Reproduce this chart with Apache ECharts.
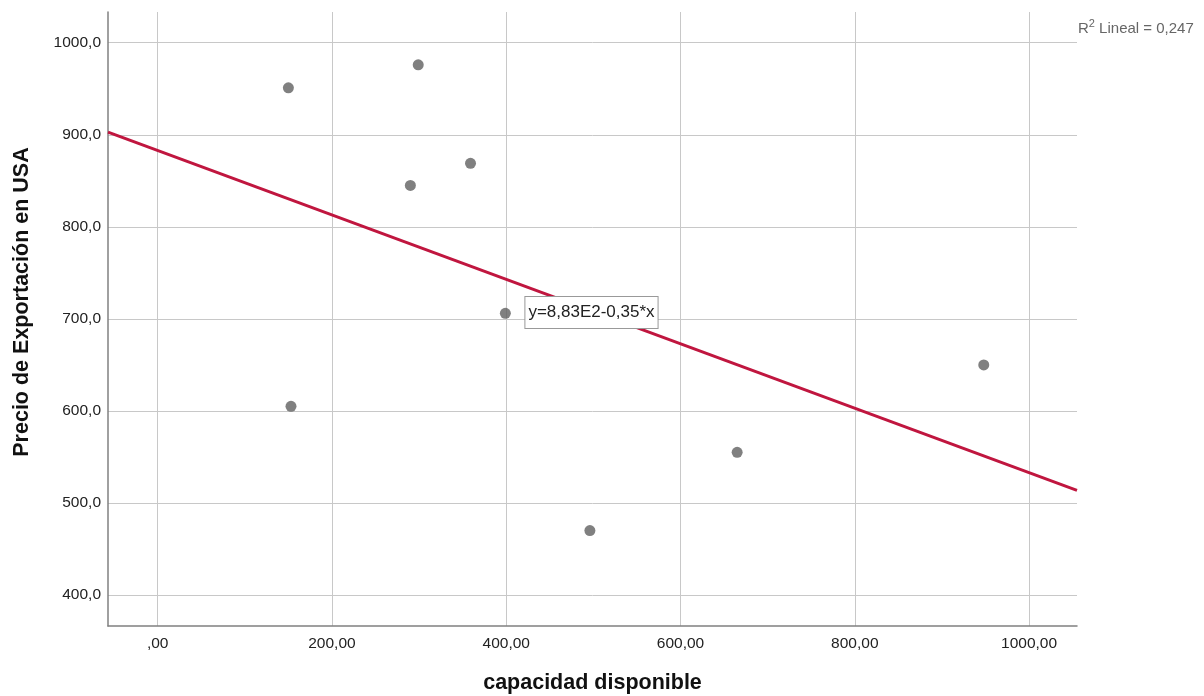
<!DOCTYPE html>
<html>
<head>
<meta charset="utf-8">
<script src="https://cdn.jsdelivr.net/npm/echarts@6/dist/echarts.min.js"></script>
<style>
html,body{margin:0;padding:0;background:#fff;}
#chart{width:1204px;height:696px;}
</style>
</head>
<body>
<div id="chart"></div>
<script>
// Data
const capacidad = [150, 299, 290, 359, 399, 153, 496, 665, 948];
const precio    = [951, 976, 845, 869, 706, 605, 470, 555, 650];
const xTicks = [0, 200, 400, 600, 800, 1000];
const yTicks = [400, 500, 600, 700, 800, 900, 1000];
const fitIntercept = 883;
const fitSlope = -0.35;
const fitLabel = 'y=8,83E2-0,35*x';
const r2Text = '0,247';
const xTitle = 'capacidad disponible';
const yTitle = 'Precio de Exportación en USA';

const xMin = -57, xMax = 1055;
const yMin = 366.3, yMax = 1033.4;

const points = capacidad.map((c, i) => [c, precio[i]]);
const fitLine = [[xMin, fitIntercept + fitSlope * xMin], [xMax, fitIntercept + fitSlope * xMax]];

const fmtX = v => { const s = v.toFixed(2).replace('.', ','); return s.startsWith('0,') ? s.slice(1) : s; };
const fmtY = v => v.toFixed(1).replace('.', ',');

const FF = 'Liberation Sans';
const chart = echarts.init(document.getElementById('chart'), null, {renderer: 'canvas'});
chart.setOption({
  animation: false,
  backgroundColor: '#ffffff',
  grid: {left: 108, right: 127, top: 12, bottom: 70, containLabel: false, outerBoundsMode: 'none'},
  xAxis: {
    type: 'value', min: xMin, max: xMax,
    name: xTitle, nameLocation: 'middle', nameGap: 46,
    nameTextStyle: {fontFamily: FF, fontSize: 21.5, fontWeight: 'bold', color: '#111'},
    axisLine: {show: true, onZero: false, lineStyle: {color: '#808080', width: 1.5}},
    axisTick: {show: false, customValues: xTicks},
    axisLabel: {customValues: xTicks, formatter: fmtX, fontFamily: FF, fontSize: 15.5, color: '#222', margin: 10},
    splitLine: {show: true, lineStyle: {color: '#c8c8c8', width: 1}}
  },
  yAxis: {
    type: 'value', min: yMin, max: yMax,
    axisLine: {show: true, onZero: false, lineStyle: {color: '#808080', width: 1.5}},
    axisTick: {show: false, customValues: yTicks},
    axisLabel: {customValues: yTicks, formatter: fmtY, fontFamily: FF, fontSize: 15.5, color: '#222', margin: 7},
    splitLine: {show: true, lineStyle: {color: '#c8c8c8', width: 1}}
  },
  series: [
    {
      type: 'line', data: fitLine, symbol: 'none', clip: true,
      lineStyle: {color: '#c0163f', width: 3}, z: 2,
      markPoint: {
        symbol: 'rect', symbolSize: 0,
        data: [{coord: [422, 707]}],
        label: {
          show: true, position: 'right', distance: 0, formatter: fitLabel,
          fontFamily: FF, fontSize: 17, lineHeight: 17, color: '#222',
          backgroundColor: '#fff', borderColor: '#999', borderWidth: 1, padding: [7, 3, 7, 3]
        }
      }
    },
    {
      type: 'scatter', data: points, symbol: 'circle', symbolSize: 11,
      itemStyle: {color: '#606060'}, z: 3
    }
  ],
  graphic: [
    {
      type: 'text', left: 1078, top: 18,
      style: {
        text: '{s|R}{u|2}{s| Lineal = ' + r2Text + '}',
        rich: {
          s: {fontFamily: FF, fontSize: 15, fill: '#666', verticalAlign: 'bottom'},
          u: {fontFamily: FF, fontSize: 11, fill: '#666', verticalAlign: 'top', padding: [0, 0, 7, 0]}
        }
      }
    },
    {
      type: 'text', x: 22, y: 302, rotation: Math.PI / 2,
      style: {
        text: yTitle, fontFamily: FF, fontSize: 21.5, fontWeight: 'bold', fill: '#111',
        align: 'center', verticalAlign: 'middle'
      }
    }
  ]
});
</script>
</body>
</html>
